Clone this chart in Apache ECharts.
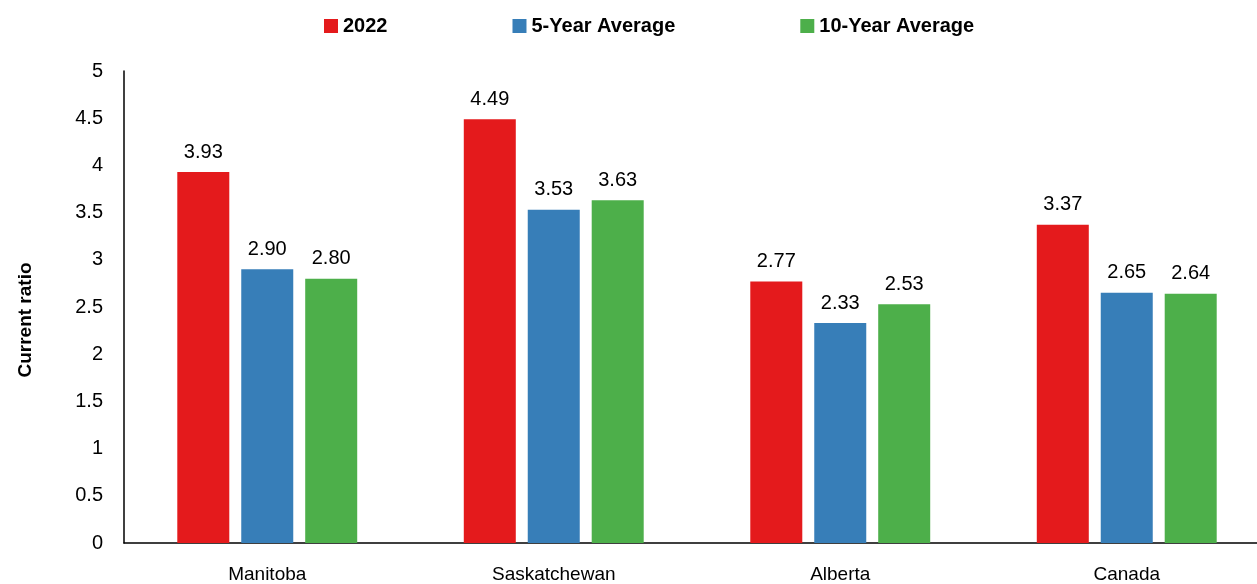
<!DOCTYPE html>
<html>
<head>
<meta charset="utf-8">
<script src="https://cdn.jsdelivr.net/npm/echarts@6/dist/echarts.min.js"></script>
<style>
  html, body { margin: 0; padding: 0; background: #fff; overflow: hidden; }
  #frame { position: relative; width: 1257px; height: 584px; overflow: hidden; }
  /* the plot area runs slightly past the right edge of the frame */
  #chart { position: absolute; left: 0; top: 0; width: 1271px; height: 584px; }
</style>
</head>
<body>
<div id="frame"><div id="chart"></div></div>
<script>
// Current ratio by region
const regions = ['Manitoba', 'Saskatchewan', 'Alberta', 'Canada'];
const seriesNames = ['2022', '5-Year Average', '10-Year Average'];
const values2022 = [3.93, 4.49, 2.77, 3.37];
const values5yr = [2.90, 3.53, 2.33, 2.65];
const values10yr = [2.80, 3.63, 2.53, 2.64];
const yTicks = [0, 0.5, 1, 1.5, 2, 2.5, 3, 3.5, 4, 4.5, 5];

const colors = ['#E41A1C', '#377EB8', '#4DAF4A'];
const font = '"Liberation Sans", Arial, sans-serif';

const chart = echarts.init(document.getElementById('chart'), null, { renderer: 'canvas' });

function barSeries(name, data, color) {
  return {
    name: name,
    type: 'bar',
    data: data,
    barWidth: 52,
    barGap: '23%',
    itemStyle: { color: color },
    label: {
      show: true,
      position: 'top',
      distance: 10,
      color: '#000',
      fontFamily: font,
      fontSize: 20,
      formatter: p => p.value.toFixed(2)
    }
  };
}

chart.setOption({
  animation: false,
  color: colors,
  legend: {
    top: 11,
    left: 319,
    itemWidth: 14,
    itemHeight: 14,
    itemGap: 125,
    icon: 'rect',
    textStyle: { fontFamily: font, fontWeight: 'bold', fontSize: 20, color: '#000' },
    data: seriesNames
  },
  grid: { left: 124, top: 71, width: 1146, height: 477 },
  xAxis: {
    type: 'category',
    data: regions,
    axisLine: { lineStyle: { color: '#000', width: 1.5 } },
    axisTick: { show: false },
    axisLabel: { color: '#000', fontFamily: font, fontSize: 19, margin: 22 }
  },
  yAxis: {
    type: 'value',
    min: 0,
    max: 5,
    interval: 0.5,
    name: 'Current ratio',
    nameLocation: 'middle',
    nameGap: 89,
    nameRotate: 90,
    nameTextStyle: {
      fontFamily: font, fontWeight: 'bold', fontSize: 19, color: '#000',
      padding: [0, 26, 0, 0]
    },
    axisLine: { show: true, lineStyle: { color: '#000', width: 1.5 } },
    axisTick: { show: false },
    splitLine: { show: false },
    axisLabel: {
      color: '#000',
      fontFamily: font,
      fontSize: 20,
      margin: 21,
      formatter: v => yTicks.includes(v) ? String(v) : ''
    }
  },
  series: [
    barSeries(seriesNames[0], values2022, colors[0]),
    barSeries(seriesNames[1], values5yr, colors[1]),
    barSeries(seriesNames[2], values10yr, colors[2])
  ]
});
</script>
</body>
</html>
